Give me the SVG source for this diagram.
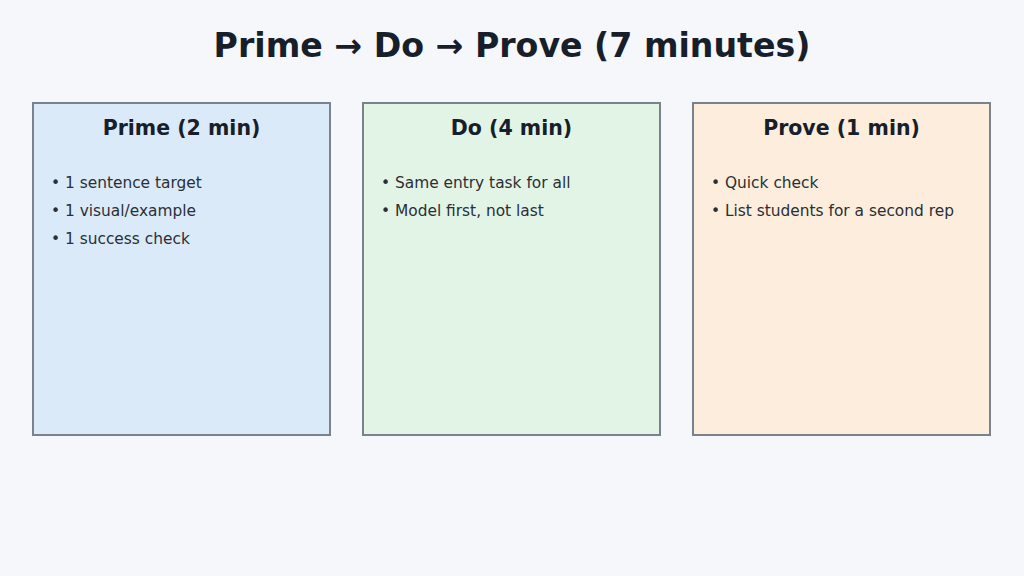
<svg xmlns="http://www.w3.org/2000/svg" width="1024" height="576" viewBox="0 0 1024 576">
<style>
.title{font-family:"DejaVu Sans",sans-serif;font-weight:bold;font-size:33.2px;fill:#17202a;text-anchor:middle}
.head{font-family:"DejaVu Sans",sans-serif;font-weight:bold;font-size:20.5px;fill:#17202a;text-anchor:middle}
.item{font-family:"DejaVu Sans",sans-serif;font-size:15.4px;fill:#2a2f36}
.box{stroke:#7a838d;stroke-width:2}
</style>
<rect width="1024" height="576" fill="#f5f7fb"/>
<text class="title" x="512" y="57">Prime → Do → Prove (7 minutes)</text>
<g id="prime">
<rect class="box" x="33" y="103" width="297" height="332" fill="#dbeaf9"/>
<text class="head" x="181.5" y="135">Prime (2 min)</text>
<text class="item" x="51" y="188">• 1 sentence target</text>
<text class="item" x="51" y="216">• 1 visual/example</text>
<text class="item" x="51" y="244">• 1 success check</text>
</g>
<g id="do">
<rect class="box" x="363" y="103" width="297" height="332" fill="#e2f4e6"/>
<text class="head" x="511.5" y="135">Do (4 min)</text>
<text class="item" x="381" y="188">• Same entry task for all</text>
<text class="item" x="381" y="216">• Model first, not last</text>
</g>
<g id="prove">
<rect class="box" x="693" y="103" width="297" height="332" fill="#fdeddc"/>
<text class="head" x="841.5" y="135">Prove (1 min)</text>
<text class="item" x="711" y="188">• Quick check</text>
<text class="item" x="711" y="216">• List students for a second rep</text>
</g>
<g id="connectors"></g>
</svg>
